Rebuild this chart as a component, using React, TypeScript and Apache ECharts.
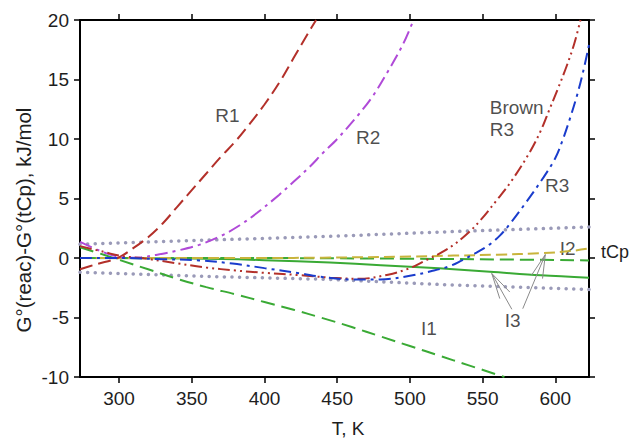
import React, { useEffect, useRef } from "react";
import * as echarts from "echarts";

const FONT = '"Liberation Sans", Arial, sans-serif';
const T_MIN = 273.15;
const T_MAX = 623.15;
const X_TICKS = [300, 350, 400, 450, 500, 550, 600];
const Y_MIN = -10;
const Y_MAX = 20;

const R1: [number, number][] = [
  [273.15, -0.95], [285, -0.5], [299, 0.0], [310, 0.85], [320, 1.75], [330, 2.9], [340, 4.3],
  [350, 5.7], [360, 7.1], [370, 8.5], [380, 9.8], [390, 11.3], [400, 12.9], [410, 14.7],
  [420, 16.8], [430, 18.9], [435.5, 20],
];
const R2: [number, number][] = [
  [273.15, 1.35], [285, 0.7], [295, 0.25], [305, 0.02], [315, 0.05], [325, 0.25], [340, 0.62],
  [355, 1.1], [370, 1.85], [383, 2.75], [395, 3.8], [410, 5.3], [420, 6.4], [431, 7.65],
  [440, 8.8], [450, 10.0], [465, 12.1], [475, 13.7], [484, 15.5], [495, 17.9], [502.5, 20],
];
const BROWN_R3: [number, number][] = [
  [273.15, 1.0], [290, 0.5], [300, 0.2], [318, -0.05], [340, -0.45], [360, -0.8], [380, -1.05],
  [400, -1.25], [425, -1.45], [445, -1.65], [465, -1.75], [485, -1.4], [500, -0.85], [510, -0.25],
  [520, 0.35], [530, 1.1], [540, 2.1], [548, 3.1], [560, 4.9], [570, 6.5], [582, 8.8], [590, 10.7],
  [596, 12.5], [602, 14.3], [608, 16.2], [613, 18.0], [617.3, 20],
];
const R3: [number, number][] = [
  [273.15, 0.0], [300, 0.0], [330, -0.1], [355, -0.2], [378, -0.47], [400, -0.85], [425, -1.3],
  [440, -1.6], [460, -1.8], [480, -1.8], [500, -1.5], [515, -1.1], [527, -0.7], [535, -0.25],
  [545, 0.4], [555, 1.15], [562, 1.9], [569, 2.9], [580, 4.7], [592, 6.8], [600, 8.4],
  [605, 9.9], [610, 11.7], [615, 13.7], [619, 15.6], [623.15, 17.9],
];
const I1: [number, number][] = [
  [273.15, 0.9], [290, 0.25], [300, -0.15], [320, -0.95], [340, -1.75], [360, -2.45], [380, -3.05],
  [400, -3.7], [420, -4.35], [440, -5.05], [460, -5.8], [480, -6.6], [500, -7.4], [520, -8.2],
  [540, -9.0], [565, -10.0],
];
const I2: [number, number][] = [
  [273.15, 0], [400, 0], [450, -0.03], [500, -0.06], [560, -0.12], [623.15, -0.2],
];
const I3: [number, number][] = [
  [273.15, 0], [350, -0.05], [400, -0.18], [445, -0.38], [480, -0.6], [520, -0.87], [555, -1.15],
  [590, -1.45], [623.15, -1.65],
];
const TCP: [number, number][] = [
  [273.15, 0], [400, 0], [440, 0.03], [500, 0.12], [530, 0.2], [560, 0.28], [590, 0.4],
  [610, 0.58], [623.15, 0.8],
];
const BAND_UP: [number, number][] = [
  [273.15, 1.15], [360, 1.5], [445, 1.82], [525, 2.2], [623.15, 2.6],
];
const BAND_LO: [number, number][] = [
  [273.15, -1.2], [360, -1.55], [445, -1.8], [525, -2.25], [623.15, -2.65],
];
const ARROW_L_HEAD: [number, number][] = [[561.8, -3.41], [556.3, -1.3], [568.7, -2.86]];
const ARROW_L_SHAFT: [number, number][] = [[556.3, -1.3], [570.1, -4.31]];
const ARROW_R_HEAD: [number, number][] = [[583.6, -1.45], [593.1, 0.29], [591.2, -1.73]];
const ARROW_R_SHAFT: [number, number][] = [[593.1, 0.29], [577.6, -4.26]];

const LABELS: { name: string; value: [number, number]; align?: string }[] = [
  { name: "R1", value: [374.5, 12.0] },
  { name: "R2", value: [471.3, 10.1] },
  { name: "Brown\nR3", value: [554.9, 11.7], align: "left" },
  { name: "R3", value: [601.3, 6.07] },
  { name: "I2", value: [608.5, 0.76] },
  { name: "I1", value: [513, -5.9] },
  { name: "I3", value: [570.7, -5.28] },
];

const RED = "#b3302a";
const PURPLE = "#b04ad8";
const BLUE = "#1a3ccc";
const GREEN = "#3aaa35";
const OLIVE = "#c8b43c";
const DOT = "#9a9ab8";
const TEXT = "#1e1e1e";

function lineSeries(name: string, data: [number, number][], color: string, width: number, dash: any, extra: any = {}) {
  return {
    name,
    type: "line",
    data,
    showSymbol: false,
    symbol: "none",
    smooth: 0.35,
    silent: true,
    lineStyle: { color, width, type: dash, cap: "butt" },
    ...extra,
  };
}

export default function App() {
  const ref = useRef<HTMLDivElement>(null);
  useEffect(() => {
    if (!ref.current) return;
    const chart = echarts.init(ref.current, undefined, { renderer: "svg" });
    const axisLine = { show: true, onZero: false, lineStyle: { color: "#000", width: 2 } };
    const tick = { show: true, inside: false, length: 6, lineStyle: { color: "#000", width: 1.5 } };
    chart.setOption({
      animation: false,
      backgroundColor: "#fff",
      grid: { left: 80, right: 42, top: 20, bottom: 63 },
      xAxis: [
        {
          type: "value", min: T_MIN, max: T_MAX, position: "bottom",
          axisLine, axisTick: { ...tick, customValues: X_TICKS },
          axisLabel: { customValues: X_TICKS, fontSize: 19, color: TEXT, margin: 12, fontFamily: FONT },
          splitLine: { show: false },
        },
        {
          type: "value", min: T_MIN, max: T_MAX, position: "top",
          axisLine, axisTick: { ...tick, customValues: X_TICKS },
          axisLabel: { show: false }, splitLine: { show: false },
        },
      ],
      yAxis: [
        {
          type: "value", min: Y_MIN, max: Y_MAX, interval: 5, position: "left",
          axisLine, axisTick: tick,
          axisLabel: { fontSize: 19, color: TEXT, margin: 11, fontFamily: FONT },
          splitLine: { show: false },
        },
        {
          type: "value", min: Y_MIN, max: Y_MAX, interval: 5, position: "right",
          axisLine, axisTick: tick, axisLabel: { show: false }, splitLine: { show: false },
        },
      ],
      graphic: [
        {
          type: "text", x: 23, y: 220, rotation: Math.PI / 2,
          style: { text: "G°(reac)-G°(tCp), kJ/mol", fontSize: 20.5, fill: TEXT, align: "center", verticalAlign: "middle", fontFamily: FONT },
        },
        {
          type: "text", x: 348, y: 428,
          style: { text: "T, K", fontSize: 19, fill: TEXT, align: "center", verticalAlign: "middle", fontFamily: FONT },
        },
      ],
      series: [
        lineSeries("upper", BAND_UP, DOT, 3.5, [0.1, 7.5], { smooth: false, lineStyle: { color: DOT, width: 3.5, type: [0.1, 7.5], cap: "round" } }),
        lineSeries("lower", BAND_LO, DOT, 3.5, [0.1, 7.5], { smooth: false, lineStyle: { color: DOT, width: 3.5, type: [0.1, 7.5], cap: "round" } }),
        lineSeries("I1", I1, GREEN, 2, [14, 7]),
        lineSeries("I3", I3, GREEN, 2, "solid"),
        lineSeries("I2", I2, GREEN, 2, [14, 6]),
        lineSeries("tCp", TCP, OLIVE, 2, [11, 5], {
          endLabel: { show: true, formatter: "tCp", fontSize: 18, color: TEXT, fontFamily: FONT, distance: 12, offset: [0, 4] },
        }),
        lineSeries("R1", R1, RED, 2, [13, 6]),
        lineSeries("R2", R2, PURPLE, 2, [13, 5, 3, 5]),
        lineSeries("Brown R3", BROWN_R3, RED, 2, [12, 4, 2, 4, 2, 4]),
        lineSeries("R3", R3, BLUE, 2, [12, 5, 3, 5]),
        lineSeries("arrowLH", ARROW_L_HEAD, "#8a8a8a", 1, "solid", { smooth: false }),
        lineSeries("arrowLS", ARROW_L_SHAFT, "#8a8a8a", 1, "solid", { smooth: false }),
        lineSeries("arrowRH", ARROW_R_HEAD, "#8a8a8a", 1, "solid", { smooth: false }),
        lineSeries("arrowRS", ARROW_R_SHAFT, "#8a8a8a", 1, "solid", { smooth: false }),
        {
          name: "labels",
          type: "scatter",
          silent: true,
          symbolSize: 1,
          itemStyle: { color: "rgba(0,0,0,0)" },
          data: LABELS.map((l) => ({
            name: l.name,
            value: l.value,
            label: l.align ? { align: l.align } : undefined,
          })),
          label: {
            show: true, position: "inside", formatter: (p: any) => p.name,
            fontSize: 19, color: TEXT, fontFamily: FONT, lineHeight: 22,
          },
        },
      ],
    });
    return () => chart.dispose();
  }, []);
  return (
    <div
      ref={ref}
      style={{ position: "fixed", left: 0, top: 0, width: 631, height: 440, background: "#fff" }}
    />
  );
}
